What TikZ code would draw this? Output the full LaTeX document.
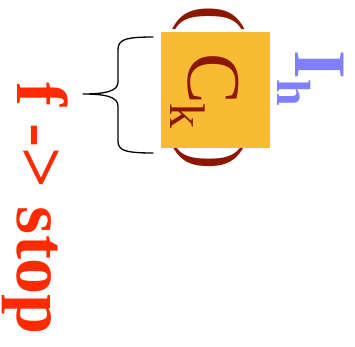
\documentclass[tikz,border=0pt]{standalone}
\usepackage{fontspec}
\setmainfont{Liberation Serif}
\definecolor{stopred}{HTML}{FF2A00}
\definecolor{darkred}{HTML}{8C1600}
\definecolor{boxorange}{HTML}{F9BB33}
\definecolor{lavender}{HTML}{8080FF}
\newcommand{\fsz}[1]{\fontsize{#1}{#1}\selectfont}
\tikzset{
  vtext/.style={rotate=-90, anchor=base west, inner sep=0pt, outer sep=0pt},
  bracestyle/.style={draw=black, line width=1.3pt, line cap=round, line join=round},
}
\begin{document}
\begin{tikzpicture}[x=1pt,y=-1pt]
\useasboundingbox (0,0) rectangle (355,346);
% parentheses around the highlighted term
\node[vtext, text=darkred, font={\fsz{80}}] (lparen) at (189,5) {(};
\node[vtext, text=darkred, font={\fsz{80}}] (rparen) at (189,143) {)};
% highlighted box
\node[fill=boxorange, minimum width=109pt, minimum height=116pt, inner sep=0pt, anchor=north west] (cbox) at (161,32) {};
% C_k
\node[vtext, text=darkred, font={\fsz{76}}] (cmain) at (188,53) {C};
\node[vtext, text=darkred, font={\fsz{50}}] (csub) at (170,103) {k};
% I_h
\node[vtext, text=lavender, font={\bfseries\fsz{74}}] (imain) at (295,50.5) {I};
\node[vtext, text=lavender, font={\bfseries\fsz{48}}] (isub) at (277,79.5) {h};
% label
\node[vtext, text=stopred, font={\bfseries\fsz{72}}] (label) at (17.5,82) {f -> stop};
% brace
\coordinate (btop) at (153,37);
\coordinate (btip) at (83,94);
\coordinate (bbot) at (153,153);
\draw[bracestyle] (btop) .. controls (124,37) and (118,40) .. (118,50) -- (118,82)
  .. controls (118,91) and (106,94) .. (btip)
  .. controls (106,94) and (118,97) .. (118,106) -- (118,141)
  .. controls (118,150) and (124,153) .. (bbot);
\end{tikzpicture}
\end{document}
